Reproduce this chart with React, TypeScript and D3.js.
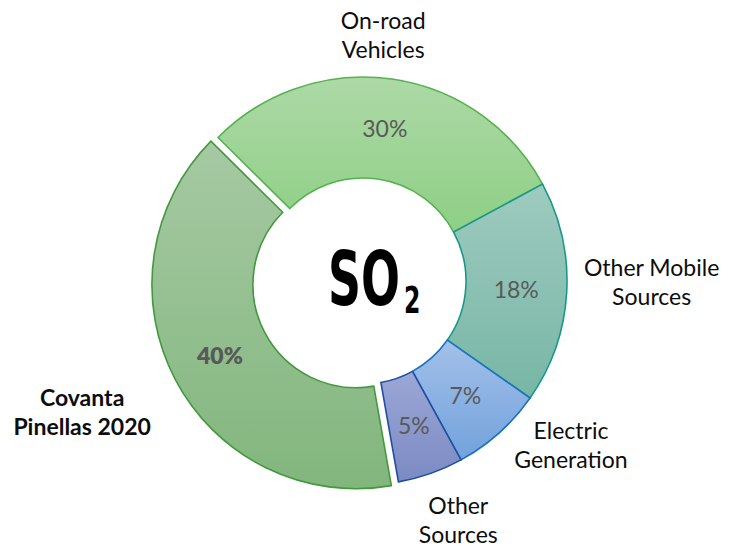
import React, { useEffect, useRef } from 'react';
import * as d3 from 'd3';

// slice order as in the source sheet, drawn clockwise
const categories = ['Covanta Pinellas 2020', 'On-road Vehicles', 'Other Mobile Sources', 'Electric Generation', 'Other Sources'];
const labelLines = [['Covanta', 'Pinellas 2020'], ['On-road', 'Vehicles'], ['Other Mobile', 'Sources'], ['Electric', 'Generation'], ['Other', 'Sources']];
const shares = [40.2, 29.7, 17.6, 7.3, 5.2];
const centerTitle = 'SO';
const centerSub = '2';

const fillTop = ['#a6c9a3', '#add9a6', '#9ecbbf', '#a3c0e9', '#9ba7d6'];
const fillBottom = ['#82b67d', '#8ecf85', '#77b6a5', '#72a2dc', '#7b8ac3'];
const strokes = ['#43993d', '#55b34f', '#17998a', '#1a73c2', '#1f4f9e'];
const explode = [8, 0, 0, 0, 0];
// label nudges from the outer anchor point
const labelNudge = [[-86, 29.5], [-10, -35.5], [77, -10.5], [66.5, 6.5], [25, 39.5]];

const W = 738;
const H = 550;

const DonutChart = () => {
  const svgRef = useRef<SVGSVGElement | null>(null);

  useEffect(() => {
    if (!svgRef.current) return;
    const svg = d3.select(svgRef.current);
    svg.selectAll('*').remove();

    const cx = 363;
    const cy = 281;
    const outerR = 204;
    const innerR = 103;
    const deg = Math.PI / 180;

    const pie = d3.pie<number>()
      .sort(null)
      .startAngle(170 * deg)
      .endAngle(530 * deg);
    const slices = pie(shares);

    const arc = d3.arc<d3.PieArcDatum<number>>()
      .innerRadius(innerR)
      .outerRadius(outerR);
    const anchorArc = d3.arc<d3.PieArcDatum<number>>()
      .innerRadius(212)
      .outerRadius(212);

    // gradients, one per slice
    const defs = svg.append('defs');
    categories.forEach((c, i) => {
      const g = defs.append('linearGradient')
        .attr('id', `grad-${i}`)
        .attr('x1', 0).attr('y1', 0)
        .attr('x2', 0).attr('y2', 1);
      g.append('stop').attr('offset', '0%').attr('stop-color', fillTop[i]);
      g.append('stop').attr('offset', '100%').attr('stop-color', fillBottom[i]);
    });

    const offset = (d: d3.PieArcDatum<number>, i: number) => {
      const mid = (d.startAngle + d.endAngle) / 2;
      return [Math.sin(mid) * explode[i], -Math.cos(mid) * explode[i]];
    };

    const chart = svg.append('g').attr('transform', `translate(${cx},${cy})`);

    slices.forEach((d, i) => {
      const [ox, oy] = offset(d, i);
      const g = chart.append('g').attr('transform', `translate(${ox},${oy})`);
      g.append('path')
        .attr('d', arc(d))
        .attr('fill', `url(#grad-${i})`)
        .attr('stroke', strokes[i])
        .attr('stroke-width', 1.6)
        .attr('stroke-linejoin', 'miter');

      const [lx, ly] = arc.centroid(d);
      g.append('text')
        .attr('x', lx)
        .attr('y', ly)
        .attr('dy', '0.36em')
        .attr('text-anchor', 'middle')
        .style('font-family', 'Lato, "Open Sans", sans-serif')
        .style('font-size', '23px')
        .style('font-weight', i === 0 ? 800 : 400)
        .style('fill', '#595959')
        .text(`${Math.round(d.data)}%`);
    });

    // category labels outside the ring
    slices.forEach((d, i) => {
      const [ox, oy] = offset(d, i);
      const [ax, ay] = anchorArc.centroid(d);
      const x = ax + ox + labelNudge[i][0];
      const y = ay + oy + labelNudge[i][1];
      const t = chart.append('text')
        .attr('text-anchor', 'middle')
        .style('font-family', 'Lato, "Open Sans", sans-serif')
        .style('font-size', '23px')
        .style('font-weight', i === 0 ? 700 : 400)
        .style('fill', '#0d0d0d');
      labelLines[i].forEach((line, k) => {
        t.append('tspan')
          .attr('x', x)
          .attr('y', y - 6.5 + k * 29)
          .text(line);
      });
    });

    // centre title, squeezed horizontally to look like a condensed face
    const title = chart.append('text')
      .attr('transform', 'translate(-35,24) scale(0.62,1)')
      .style('font-family', '"DejaVu Sans", sans-serif')
      .style('font-weight', 700)
      .style('fill', '#000');
    title.append('tspan')
      .style('font-size', '74px')
      .text(centerTitle);
    title.append('tspan')
      .attr('dx', 6.5)
      .attr('dy', 8)
      .style('font-size', '38px')
      .text(centerSub);
  }, []);

  return <svg ref={svgRef} width={W} height={H} style={{ position: 'absolute', left: 0, top: 0, background: '#fff' }} />;
};

export default function App() {
  return <DonutChart />;
}
